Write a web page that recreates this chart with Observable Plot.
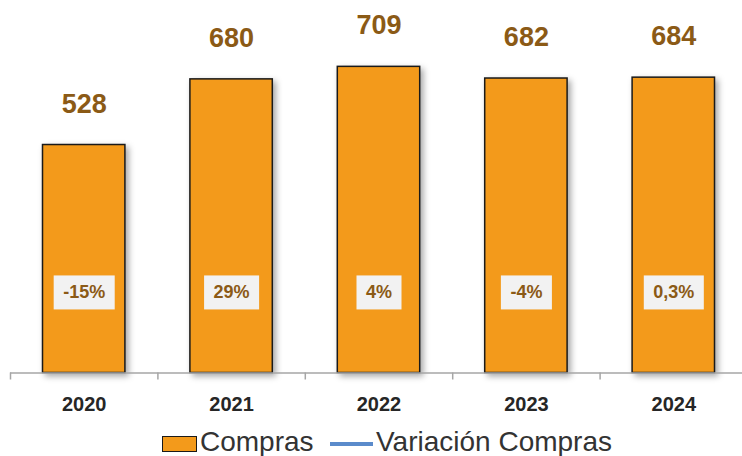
<!DOCTYPE html>
<html>
<head>
<meta charset="utf-8">
<script src="https://cdn.jsdelivr.net/npm/d3@7"></script>
<script src="https://cdn.jsdelivr.net/npm/@observablehq/plot@0.6"></script>
<style>
  html, body { margin: 0; padding: 0; background: #fff; }
  #wrap { position: relative; width: 742px; height: 456px; overflow: hidden; font-family: "Liberation Sans", Arial, sans-serif; }
  #chart svg { display: block; }
  .lg { position: absolute; }
  .lg-text { font-size: 28px; line-height: 28px; color: #333333; white-space: nowrap; }
</style>
</head>
<body>
<div id="wrap">
  <div id="chart"></div>
  <div class="lg" style="left:162px; top:436px; width:33px; height:14px; background:#F39A1B; border:1.5px solid #1a1a1a;"></div>
  <div class="lg lg-text" style="left:200px; top:428px;">Compras</div>
  <div class="lg" style="left:330px; top:442px; width:43px; height:3.5px; background:#5B8BCB;"></div>
  <div class="lg lg-text" style="left:376px; top:428px;">Variación Compras</div>
</div>
<script>
// ---- data ----
const years = [2020, 2021, 2022, 2023, 2024];
const compras = [528, 680, 709, 682, 684];
const variacion = [-15, 29, 4, -4, 0.3];

const data = years.map((year, i) => ({year, value: compras[i], varPct: variacion[i]}));
const boundaries = [...years.map(y => y - 0.5), years[years.length - 1] + 0.5];

const orange = "#F39A1B";
const brown = "#8B5A16";
const axisGray = "#A6A6A6";
const pxPerUnit = 0.4318;
const H = 424;
const base = 372.5;

const fmtPct = v => String(v).replace(".", ",") + "%";

const plot = Plot.plot({
  width: 742,
  height: H,
  marginTop: 20,
  marginBottom: H - base,
  marginLeft: 10,
  marginRight: 0,
  style: {fontFamily: "'Liberation Sans', Arial, sans-serif", background: "transparent"},
  x: {type: "linear", domain: [2019.5, 2024.5], range: [10, 747], label: null},
  y: {domain: [0, 800], range: [base, base - 800 * pxPerUnit], axis: null, label: null},
  marks: [
    Plot.rectY(data, {
      x1: d => d.year - 0.5, x2: d => d.year + 0.5, y: "value",
      insetLeft: 32.5, insetRight: 32.5,
      fill: orange, stroke: "#1a1a1a", strokeWidth: 1.5
    }),
    Plot.ruleY([0], {stroke: axisGray, strokeWidth: 1.5}),
    Plot.axisX(boundaries, {tickSize: 7, tickFormat: () => "", stroke: axisGray, strokeWidth: 1.5, label: null}),
    Plot.axisX(years, {tickSize: 0, tickPadding: 24, tickFormat: d => String(d), fontSize: 20, fontWeight: "bold", fill: "#262626", label: null}),
    Plot.text(data, {
      x: "year", y: "value", text: d => String(d.value), dy: -41,
      fontSize: 27, fontWeight: "bold", fill: brown
    }),
    Plot.text(data, {
      x: "year", y: () => 186, text: d => fmtPct(d.varPct),
      fontSize: 18, fontWeight: "bold", fill: brown, className: "pctlabels"
    })
  ]
});

document.getElementById("chart").appendChild(plot);

// soft shadow on bars
const barG = plot.querySelector('g[aria-label="rect"]');
if (barG) barG.style.filter = "drop-shadow(3px 3px 3px rgba(0,0,0,0.35))";

// light boxes behind the percentage labels
const pctG = plot.querySelector("g.pctlabels") || [...plot.querySelectorAll('g[aria-label="text"]')].pop();
if (pctG) {
  pctG.querySelectorAll("text").forEach(t => {
    const b = t.getBBox();
    const r = document.createElementNS("http://www.w3.org/2000/svg", "rect");
    const padX = 9.5, boxH = 34;
    const cy = b.y + b.height / 2;
    r.setAttribute("x", b.x - padX);
    r.setAttribute("y", cy - boxH / 2);
    r.setAttribute("width", b.width + 2 * padX);
    r.setAttribute("height", boxH);
    r.setAttribute("fill", "#F2F2F2");
    if (t.getAttribute("transform")) r.setAttribute("transform", t.getAttribute("transform"));
    t.parentNode.insertBefore(r, t);
  });
}
</script>
</body>
</html>
